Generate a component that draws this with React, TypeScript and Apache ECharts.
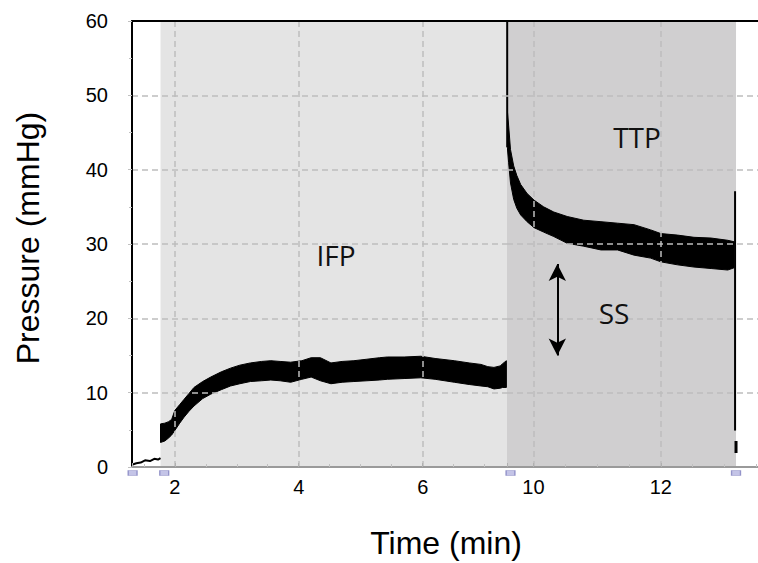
import React, { useEffect, useRef } from "react";
import * as echarts from "echarts";

// ---- data ----
const yMin = 0;
const yMax = 60;
const yStep = 10;

// left panel (IFP) time extent, min
const leftRange = [1.31, 7.36];
// right panel (TTP) time extent, min
const rightRange = [9.585, 13.525];

// baseline before infusion
const baseT = [1.31, 1.38, 1.45, 1.52, 1.6, 1.67, 1.73, 1.77];
const baseV = [0.3, 0.5, 0.6, 0.9, 0.8, 1.1, 1.0, 1.2];

// IFP trace envelope
const ifpT = [1.77, 1.84, 1.9, 1.95, 2.0, 2.08, 2.15, 2.23, 2.31, 2.45, 2.58, 2.75, 2.9, 3.05, 3.22, 3.4, 3.55, 3.7, 3.87, 4.05, 4.2, 4.35, 4.52, 4.7, 4.89, 5.1, 5.3, 5.43, 5.7, 5.97, 6.2, 6.51, 6.75, 6.94, 7.05, 7.15, 7.25, 7.29, 7.35];
const ifpLow = [3.3, 3.5, 3.9, 4.3, 4.9, 5.9, 6.7, 7.5, 8.2, 9.2, 9.8, 10.4, 10.9, 11.2, 11.5, 11.6, 11.7, 11.6, 11.4, 11.8, 12.1, 11.6, 11.2, 11.4, 11.5, 11.6, 11.7, 11.8, 11.9, 12.0, 11.8, 11.4, 11.1, 10.9, 10.8, 10.5, 10.6, 10.7, 10.7];
const ifpHigh = [5.8, 5.9, 6.1, 6.4, 7.6, 8.4, 9.1, 9.9, 10.7, 11.5, 12.1, 12.8, 13.3, 13.7, 14.0, 14.2, 14.3, 14.2, 14.1, 14.3, 14.7, 14.7, 14.0, 14.2, 14.3, 14.5, 14.7, 14.8, 14.8, 14.9, 14.6, 14.3, 14.0, 13.8, 13.5, 13.4, 13.6, 13.9, 14.3];

// TTP trace envelope
const ttpT = [9.59, 9.61, 9.64, 9.69, 9.74, 9.8, 9.9, 10.01, 10.16, 10.32, 10.53, 10.79, 11.06, 11.32, 11.58, 11.84, 12.0, 12.26, 12.52, 12.79, 13.05, 13.15];
const ttpLow = [43.0, 41.0, 38.2, 36.0, 34.8, 33.9, 33.0, 32.2, 31.6, 31.0, 30.1, 29.7, 29.2, 29.2, 28.5, 28.1, 27.6, 27.2, 26.9, 26.7, 26.5, 26.8];
const ttpHigh = [48.0, 46.0, 42.7, 40.5, 39.2, 38.0, 36.8, 35.9, 35.0, 34.3, 33.7, 33.2, 33.0, 32.8, 32.6, 31.9, 31.4, 31.2, 30.9, 30.8, 30.5, 30.3];

// onset spike of TTP and end-of-recording spike
const onsetSpikeT = 9.588;
const onsetSpikeV = [43.0, 60.0];
const endSpikeT = 13.165;
const endSpikeV = [37.1, 4.9];
const tailT = 13.18;
const tailV = [3.5, 1.9];

// shaded phases
const ifpPhase = [1.77, 7.36];
const ttpPhase = [9.585, 13.18];

// event markers on the time axis
const eventsLeft = [1.32, 1.83];
const eventsRight = [9.64, 13.18];

// steady-state arrow
const ssArrowT = 10.375;
const ssArrowV = [27.3, 15.0];

const TICK_FONT = "Liberation Sans, Arial, sans-serif";
const NOTE_FONT = "'Open Sans', sans-serif";

export default function App() {
  const ref = useRef<HTMLDivElement>(null);

  useEffect(() => {
    document.body.style.margin = "0";
    const chart = echarts.init(ref.current!, null, { renderer: "svg" });

    const split = {
      show: true,
      lineStyle: { color: "#bdbdbd", width: 1.5, type: [6, 4] as any },
    };

    const bottomX = (gridIndex: number, range: number[], splitNumber: number) => ({
      type: "value",
      gridIndex,
      min: range[0],
      max: range[1],
      splitNumber,
      position: "bottom",
      z: 5,
      axisLine: { show: true, lineStyle: { color: "#9a9a9a", width: 2 } },
      axisTick: { show: true, inside: true, length: 4, lineStyle: { color: "#b0b0b0" } },
      minorTick: { show: true, splitNumber: 4, length: 3, lineStyle: { color: "#c0c0c0" } },
      axisLabel: {
        show: true,
        fontSize: 20,
        color: "#000",
        fontFamily: TICK_FONT,
        margin: 10,
        showMinLabel: false,
        showMaxLabel: false,
      },
      splitLine: { ...split, showMinLine: false, showMaxLine: false },
    });

    const topX = (gridIndex: number, range: number[]) => ({
      type: "value",
      gridIndex,
      min: range[0],
      max: range[1],
      position: "top",
      z: 5,
      axisLine: { show: true, lineStyle: { color: "#000", width: 2 } },
      axisTick: { show: false },
      axisLabel: { show: false },
      splitLine: { show: false },
    });

    // envelope band drawn as one polygon through the axes' scales
    const band = (t: number[], lo: number[], hi: number[], axis: number) => ({
      type: "custom",
      xAxisIndex: axis,
      yAxisIndex: axis,
      silent: true,
      z: 2,
      clip: true,
      encode: { x: 0, y: [1, 2] },
      data: t.map((x, i) => [x, lo[i], hi[i]]),
      renderItem: (params: any, api: any) => {
        if (params.dataIndex !== 0) return null;
        const upper = t.map((x, i) => api.coord([x, hi[i]]));
        const lower = t.map((x, i) => api.coord([x, lo[i]])).reverse();
        return {
          type: "polygon",
          shape: { points: upper.concat(lower) },
          style: { fill: "#000", stroke: "#000", lineWidth: 1 },
        };
      },
    });

    const thinLine = (axis: number, pts: number[][], width: number) => ({
      type: "line",
      xAxisIndex: axis,
      yAxisIndex: axis,
      symbol: "none",
      silent: true,
      z: 2,
      lineStyle: { width, color: "#000" },
      data: pts,
    });

    const eventMarks = (axis: number, ts: number[]) => ({
      type: "scatter",
      xAxisIndex: axis,
      yAxisIndex: axis,
      symbol: "rect",
      symbolSize: [9, 5],
      symbolOffset: [0, 6],
      clip: false,
      silent: true,
      z: 6,
      itemStyle: { color: "rgba(120,120,200,0.55)", borderColor: "rgba(90,90,170,0.7)", borderWidth: 1 },
      data: ts.map((x) => [x, 0]),
    });

    const option: any = {
      animation: false,
      backgroundColor: "#fff",
      grid: [
        { left: 132, top: 21, width: 375, height: 446 },
        { left: 507, top: 21, right: 0, height: 446 },
      ],
      xAxis: [
        bottomX(0, leftRange, 3),
        bottomX(1, rightRange, 2),
        topX(0, leftRange),
        topX(1, rightRange),
      ],
      yAxis: [
        {
          type: "value",
          gridIndex: 0,
          min: yMin,
          max: yMax,
          interval: yStep,
          z: 5,
          axisLine: { show: true, lineStyle: { color: "#000", width: 2 } },
          axisTick: { show: true, length: 4, lineStyle: { color: "#c0c0c0" } },
          minorTick: { show: true, splitNumber: 2, length: 3, lineStyle: { color: "#c0c0c0" } },
          axisLabel: { fontSize: 20, color: "#000", fontFamily: TICK_FONT, margin: 24 },
          splitLine: { ...split, showMinLine: false, showMaxLine: false },
        },
        {
          type: "value",
          gridIndex: 1,
          min: yMin,
          max: yMax,
          interval: yStep,
          z: 5,
          axisLine: { show: false },
          axisTick: { show: false },
          axisLabel: { show: false },
          splitLine: { ...split, showMinLine: false, showMaxLine: false },
        },
      ],
      series: [
        {
          type: "line",
          xAxisIndex: 0,
          yAxisIndex: 0,
          symbol: "none",
          silent: true,
          z: 2,
          lineStyle: { width: 2, color: "#000" },
          data: baseT.map((t, i) => [t, baseV[i]]),
          markArea: {
            silent: true,
            itemStyle: { color: "#e4e4e4" },
            data: [[{ xAxis: ifpPhase[0] }, { xAxis: ifpPhase[1] }]],
          },
        },
        band(ifpT, ifpLow, ifpHigh, 0),
        {
          type: "line",
          xAxisIndex: 1,
          yAxisIndex: 1,
          symbol: "none",
          silent: true,
          z: 2,
          lineStyle: { width: 2, color: "#000" },
          data: onsetSpikeV.map((v) => [onsetSpikeT, v]),
          markArea: {
            silent: true,
            itemStyle: { color: "#d0cfd0" },
            data: [[{ xAxis: ttpPhase[0] }, { xAxis: ttpPhase[1] }]],
          },
          markLine: {
            silent: true,
            symbol: ["arrow", "arrow"],
            symbolSize: [13, 17],
            label: { show: false },
            lineStyle: { color: "#000", width: 2, type: "solid" },
            data: [[{ coord: [ssArrowT, ssArrowV[0]] }, { coord: [ssArrowT, ssArrowV[1]] }]],
          },
        },
        band(ttpT, ttpLow, ttpHigh, 1),
        thinLine(1, endSpikeV.map((v) => [endSpikeT, v]), 2),
        thinLine(1, tailV.map((v) => [tailT, v]), 3),
        eventMarks(0, eventsLeft),
        eventMarks(1, eventsRight),
      ],
      graphic: [
        {
          type: "text",
          x: 28,
          y: 238,
          rotation: Math.PI / 2,
          style: {
            text: "Pressure (mmHg)",
            font: `32px ${TICK_FONT}`,
            fill: "#000",
            textAlign: "center",
            textVerticalAlign: "middle",
          },
        },
        {
          type: "text",
          x: 446,
          y: 543,
          style: {
            text: "Time (min)",
            font: `32px ${TICK_FONT}`,
            fill: "#000",
            textAlign: "center",
            textVerticalAlign: "middle",
          },
        },
        {
          type: "text",
          x: 336,
          y: 255,
          z: 10,
          style: { text: "IFP", font: `28px ${NOTE_FONT}`, fill: "#111", textAlign: "center", textVerticalAlign: "middle" },
        },
        {
          type: "text",
          x: 637,
          y: 137,
          z: 10,
          style: { text: "TTP", font: `28px ${NOTE_FONT}`, fill: "#111", textAlign: "center", textVerticalAlign: "middle" },
        },
        {
          type: "text",
          x: 614,
          y: 313,
          z: 10,
          style: { text: "SS", font: `28px ${NOTE_FONT}`, fill: "#111", textAlign: "center", textVerticalAlign: "middle" },
        },
      ],
    };

    chart.setOption(option);
    return () => chart.dispose();
  }, []);

  return <div ref={ref} style={{ width: 758, height: 563 }} />;
}
